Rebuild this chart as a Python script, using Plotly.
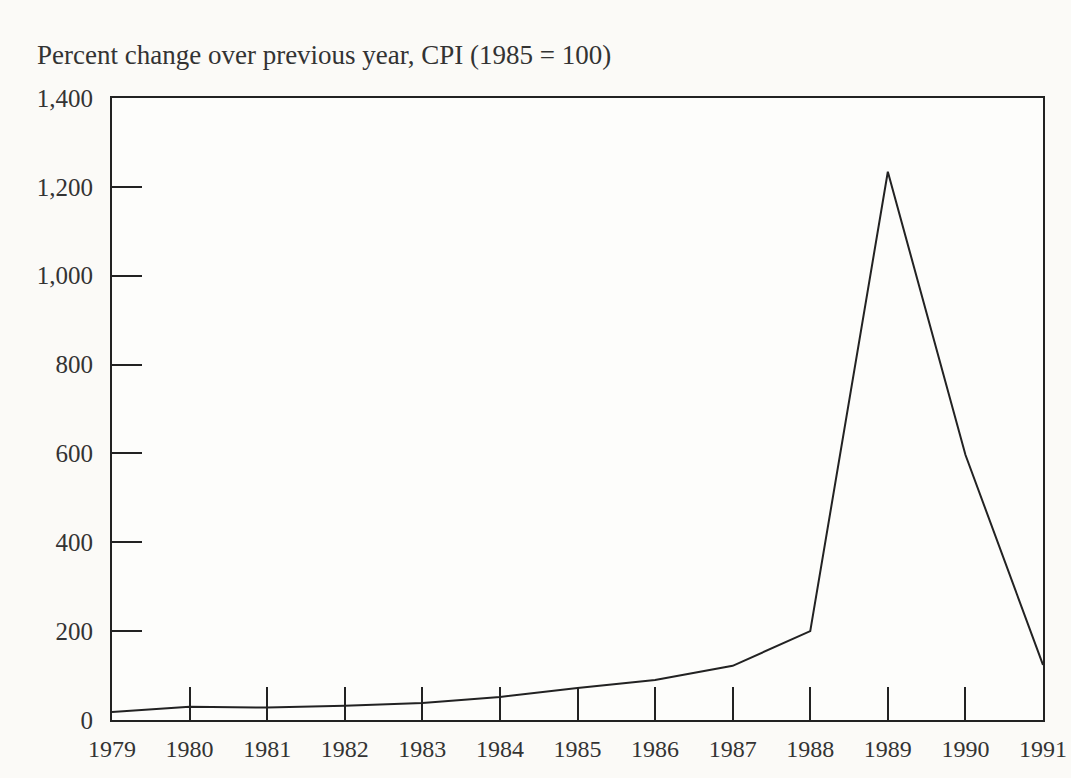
import plotly.graph_objects as go

years = [1979, 1980, 1981, 1982, 1983, 1984, 1985, 1986, 1987, 1988, 1989, 1990, 1991]
cpi_change = [18, 30, 28, 32, 38, 52, 72, 90, 122, 200, 1234, 597, 124]
y_ticks = [0, 200, 400, 600, 800, 1000, 1200, 1400]
y_tick_labels = ["0", "200", "400", "600", "800", "1,000", "1,200", "1,400"]
title_text = "Percent change over previous year, CPI (1985 = 100)"

font_family = "Liberation Serif, Times New Roman, serif"
ink = "#222222"
text_col = "#333333"

fig = go.Figure()
fig.add_trace(go.Scatter(
    x=years, y=cpi_change, mode="lines",
    line=dict(color=ink, width=2),
    showlegend=False, hoverinfo="x+y",
))

fig.update_layout(
    width=1071, height=778, autosize=False,
    margin=dict(l=112, r=28, t=98, b=58),
    paper_bgcolor="#fbfaf7", plot_bgcolor="#fdfdfb",
    font=dict(family=font_family, size=24, color=text_col),
    annotations=[dict(
        text=title_text, xref="paper", yref="paper",
        x=-0.083, y=1.069, xanchor="left", yanchor="middle",
        showarrow=False, font=dict(family=font_family, size=27, color=text_col),
    )],
)
fig.update_xaxes(
    range=[1979, 1991], tickmode="array", tickvals=years,
    ticktext=[str(y) for y in years],
    showgrid=False, zeroline=False, automargin=False,
    showline=True, linecolor=ink, linewidth=2, mirror=True,
    ticks="inside", ticklen=33, tickwidth=2, tickcolor=ink,
    ticklabelstandoff=6,
    tickfont=dict(family=font_family, size=24, color=text_col),
)
fig.update_yaxes(
    range=[0, 1400], tickmode="array", tickvals=y_ticks,
    ticktext=y_tick_labels,
    showgrid=False, zeroline=False, automargin=False,
    showline=True, linecolor=ink, linewidth=2, mirror=True,
    ticks="inside", ticklen=30, tickwidth=2, tickcolor=ink,
    ticklabelstandoff=12,
    tickfont=dict(family=font_family, size=25, color=text_col),
)

fig.write_html(
    "out.html",
    config={"responsive": False, "displayModeBar": False},
    post_script="document.body.style.margin='0px';document.body.style.overflow='hidden';",
)
